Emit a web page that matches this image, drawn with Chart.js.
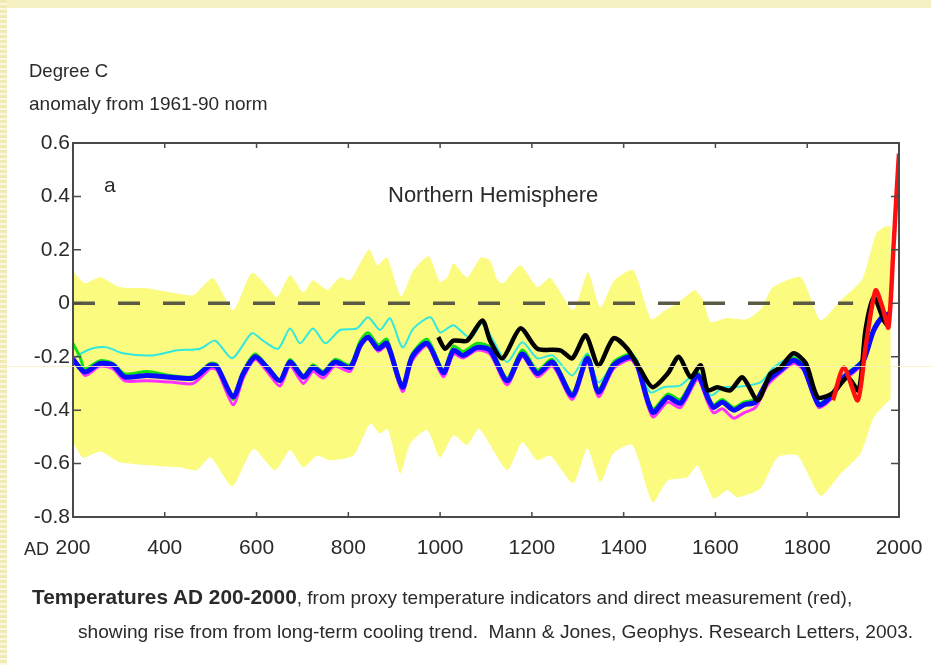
<!DOCTYPE html>
<html>
<head>
<meta charset="utf-8">
<script src="https://cdn.jsdelivr.net/npm/chart.js@4"></script>
<style>
body{margin:0;background:#fff;width:931px;height:665px;overflow:hidden;position:relative;font-family:'Liberation Sans',Arial,sans-serif;color:#2a2a2a}
#topband{position:absolute;left:0;top:0;width:931px;height:8px;background:#f6f1c3}
#leftband{position:absolute;left:0;top:0;width:7px;height:665px;background:repeating-linear-gradient(#f1eab2 0 3px,#fbf8e2 3px 5px)}
#paleline{position:absolute;left:0;top:366px;width:931px;height:1px;background:rgba(246,240,190,0.85)}
.txt{position:absolute;white-space:nowrap;line-height:1}
canvas{position:absolute;left:0;top:0}
</style>
</head>
<body>
<div id="topband"></div>
<div id="leftband"></div>
<canvas id="mannJones" width="931" height="665"></canvas>
<div id="paleline"></div>
<div class="txt" style="left:29px;top:62px;font-size:18.5px">Degree C</div>
<div class="txt" style="left:29px;top:94px;font-size:19px">anomaly from 1961-90 norm</div>
<div class="txt" style="left:104px;top:174px;font-size:21px">a</div>
<div class="txt" style="left:388px;top:184px;font-size:22px">Northern Hemisphere</div>
<div class="txt" style="left:24px;top:540px;font-size:18px">AD</div>
<div class="txt" style="left:32px;top:587px;font-size:19px"><b style="font-size:20.8px">Temperatures AD 200-2000</b>, from proxy temperature indicators and direct measurement (red),</div>
<div class="txt" style="left:78px;top:622px;font-size:19.15px">showing rise from from long-term cooling trend.&nbsp; Mann &amp; Jones, Geophys. Research Letters, 2003.</div>
<script>
// [year, anomaly]
const bandTop = [[200,0.12],[226,0.075],[259,0.097],[302,0.06],[361,0.056],[412,0.041],[462,0.03],[505,0.094],[549,-0.026],[590,0.114],[630,0.049],[645,0.022],[673,0.105],[702,0.041],[723,0.086],[754,0.05],[782,0.097],[804,0.086],[845,0.202],[863,0.142],[884,0.172],[915,0.026],[942,0.124],[975,0.176],[1000,0.08],[1016,0.097],[1029,0.15],[1059,0.097],[1088,0.17],[1109,0.16],[1125,0.086],[1138,0.075],[1175,0.142],[1212,0.06],[1240,0.095],[1290,-0.025],[1322,0.116],[1349,-0.015],[1380,0.086],[1421,0.124],[1460,-0.06],[1487,-0.03],[1517,0],[1555,0.049],[1574,0.01],[1589,-0.07],[1625,-0.055],[1667,-0.06],[1700,-0.02],[1725,0.06],[1786,0.097],[1829,-0.064],[1873,0.011],[1920,0.09],[1950,0.26],[1967,0.285],[1982,0.29]]
const bandBottom = [[200,-0.52],[222,-0.577],[259,-0.555],[302,-0.595],[374,-0.607],[433,-0.614],[470,-0.625],[500,-0.577],[547,-0.685],[593,-0.545],[640,-0.625],[673,-0.55],[702,-0.614],[732,-0.57],[760,-0.588],[811,-0.57],[848,-0.45],[869,-0.487],[886,-0.47],[913,-0.637],[935,-0.524],[972,-0.475],[1000,-0.577],[1029,-0.494],[1059,-0.53],[1085,-0.47],[1146,-0.625],[1179,-0.52],[1212,-0.588],[1240,-0.57],[1290,-0.674],[1321,-0.543],[1349,-0.67],[1378,-0.56],[1419,-0.53],[1463,-0.745],[1496,-0.663],[1539,-0.651],[1561,-0.607],[1596,-0.73],[1626,-0.7],[1648,-0.726],[1698,-0.693],[1735,-0.577],[1779,-0.57],[1829,-0.72],[1873,-0.637],[1917,-0.56],[1945,-0.427],[1982,-0.356]]
const zeroLine = [[200,0],[1900,0]]
const cyanSeries = [[200,-0.21],[215,-0.19],[244,-0.168],[274,-0.165],[309,-0.187],[374,-0.195],[427,-0.176],[477,-0.17],[510,-0.14],[547,-0.206],[590,-0.112],[614,-0.14],[647,-0.17],[673,-0.094],[695,-0.15],[723,-0.094],[750,-0.15],[782,-0.1],[819,-0.094],[843,-0.052],[869,-0.1],[891,-0.056],[918,-0.165],[942,-0.094],[979,-0.052],[1000,-0.109],[1029,-0.082],[1066,-0.13],[1092,-0.075],[1116,-0.14],[1146,-0.22],[1179,-0.146],[1212,-0.206],[1245,-0.195],[1288,-0.27],[1321,-0.187],[1345,-0.296],[1382,-0.22],[1415,-0.2],[1458,-0.333],[1487,-0.314],[1524,-0.307],[1561,-0.258],[1589,-0.345],[1618,-0.314],[1643,-0.314],[1698,-0.296],[1727,-0.24],[1770,-0.2],[1799,-0.235],[1825,-0.37],[1851,-0.34],[1880,-0.27],[1923,-0.205],[1945,-0.09],[1967,-0.04],[1980,-0.035]]
const greenSeries = [[200,-0.15],[215,-0.2],[226,-0.245],[259,-0.215],[287,-0.225],[313,-0.265],[361,-0.255],[412,-0.27],[462,-0.275],[499,-0.225],[514,-0.23],[549,-0.36],[571,-0.255],[597,-0.19],[623,-0.235],[651,-0.285],[673,-0.21],[702,-0.27],[723,-0.23],[745,-0.255],[771,-0.21],[804,-0.23],[826,-0.14],[843,-0.11],[865,-0.155],[884,-0.135],[918,-0.31],[939,-0.19],[972,-0.135],[1007,-0.25],[1029,-0.16],[1050,-0.18],[1081,-0.15],[1109,-0.165],[1146,-0.28],[1179,-0.175],[1212,-0.25],[1245,-0.21],[1288,-0.335],[1321,-0.195],[1345,-0.32],[1378,-0.22],[1415,-0.19],[1430,-0.22],[1463,-0.395],[1496,-0.34],[1524,-0.36],[1561,-0.26],[1583,-0.345],[1596,-0.38],[1615,-0.36],[1640,-0.39],[1662,-0.37],[1687,-0.36],[1714,-0.285],[1742,-0.24],[1770,-0.205],[1792,-0.235],[1825,-0.375],[1851,-0.345],[1880,-0.27],[1901,-0.245],[1923,-0.205],[1945,-0.095],[1967,-0.04],[1980,-0.035]]
const magentaSeries = [[200,-0.2],[226,-0.27],[259,-0.235],[287,-0.245],[313,-0.29],[361,-0.29],[412,-0.295],[462,-0.3],[499,-0.245],[514,-0.25],[549,-0.38],[571,-0.28],[597,-0.21],[623,-0.255],[651,-0.31],[673,-0.235],[702,-0.3],[723,-0.255],[745,-0.28],[771,-0.235],[804,-0.255],[826,-0.165],[843,-0.13],[865,-0.18],[884,-0.16],[918,-0.33],[939,-0.215],[972,-0.16],[1007,-0.275],[1029,-0.19],[1050,-0.205],[1081,-0.175],[1109,-0.19],[1146,-0.305],[1179,-0.2],[1212,-0.275],[1245,-0.235],[1288,-0.36],[1321,-0.22],[1345,-0.35],[1378,-0.245],[1415,-0.21],[1430,-0.245],[1463,-0.425],[1496,-0.37],[1524,-0.39],[1561,-0.285],[1583,-0.37],[1596,-0.41],[1615,-0.395],[1640,-0.43],[1662,-0.41],[1687,-0.39],[1714,-0.305],[1742,-0.26],[1770,-0.225],[1792,-0.25],[1825,-0.39],[1851,-0.36],[1880,-0.285],[1901,-0.26],[1923,-0.22],[1945,-0.11],[1967,-0.05],[1980,-0.045]]
const blueSeries = [[200,-0.21],[226,-0.257],[259,-0.225],[287,-0.232],[313,-0.276],[361,-0.27],[412,-0.277],[462,-0.28],[499,-0.232],[514,-0.238],[549,-0.35],[571,-0.263],[597,-0.2],[623,-0.24],[651,-0.29],[673,-0.22],[702,-0.277],[723,-0.24],[745,-0.263],[771,-0.22],[804,-0.24],[826,-0.157],[843,-0.127],[865,-0.17],[884,-0.15],[918,-0.314],[939,-0.2],[972,-0.15],[1007,-0.26],[1029,-0.176],[1050,-0.195],[1081,-0.165],[1109,-0.176],[1146,-0.29],[1179,-0.19],[1212,-0.263],[1245,-0.22],[1288,-0.345],[1321,-0.206],[1345,-0.333],[1378,-0.232],[1415,-0.2],[1430,-0.232],[1463,-0.408],[1496,-0.352],[1524,-0.374],[1561,-0.27],[1583,-0.352],[1596,-0.39],[1615,-0.37],[1640,-0.4],[1662,-0.38],[1687,-0.37],[1714,-0.29],[1742,-0.25],[1770,-0.213],[1792,-0.24],[1825,-0.38],[1851,-0.35],[1880,-0.277],[1901,-0.25],[1923,-0.213],[1945,-0.1],[1967,-0.045],[1980,-0.04]]
const blackSeries = [[996,-0.127],[1011,-0.17],[1029,-0.14],[1059,-0.14],[1092,-0.064],[1109,-0.14],[1136,-0.206],[1175,-0.094],[1212,-0.17],[1262,-0.176],[1288,-0.206],[1317,-0.12],[1345,-0.232],[1378,-0.131],[1408,-0.17],[1437,-0.25],[1463,-0.314],[1496,-0.263],[1520,-0.2],[1546,-0.277],[1568,-0.232],[1583,-0.326],[1604,-0.314],[1632,-0.326],[1659,-0.277],[1692,-0.363],[1720,-0.263],[1742,-0.24],[1770,-0.187],[1797,-0.225],[1823,-0.352],[1855,-0.337],[1888,-0.277],[1912,-0.326],[1927,-0.1],[1945,0.022],[1967,-0.064],[1978,-0.09]]
const redSeries = [[1856,-0.363],[1880,-0.24],[1910,-0.363],[1927,-0.165],[1949,0.048],[1964,-0.015],[1977,-0.09],[1988,0.21],[1995,0.42],[2000,0.56]]
const yearTicks = [200,400,600,800,1000,1200,1400,1600,1800,2000]
const anomalyTicks = [0.6,0.4,0.2,0,-0.2,-0.4,-0.6,-0.8]

function pts(arr){
    return arr.map(p => ({x: p[0], y: p[1]}))
}

function line(data, color, width, order){
    return {data: pts(data), borderColor: color, borderWidth: width, pointRadius: 0, tension: 0.25, fill: false, order: order}
}

// inward tick marks + frame, positions from the chart scales
const frameTicks = {
    id: 'frameTicks',
    afterDatasetsDraw(chart){
        const c = chart.ctx
        const a = chart.chartArea
        const xs = chart.scales.x
        const ys = chart.scales.y
        c.save()
        c.strokeStyle = '#4a4a4a'
        c.lineWidth = 2
        c.strokeRect(a.left, a.top, a.right - a.left, a.bottom - a.top)
        c.lineWidth = 1.5
        c.beginPath()
        yearTicks.forEach(t => {
            let px = xs.getPixelForValue(t)
            c.moveTo(px, a.top); c.lineTo(px, a.top + 5)
            c.moveTo(px, a.bottom); c.lineTo(px, a.bottom - 5)
        })
        anomalyTicks.forEach(t => {
            let py = ys.getPixelForValue(t)
            c.moveTo(a.left, py); c.lineTo(a.left + 8, py)
            c.moveTo(a.right, py); c.lineTo(a.right - 8, py)
        })
        c.stroke()
        c.restore()
    }
}

const zero = line(zeroLine, '#5b5b45', 3.5, 6)
zero.borderDash = [22, 23]
zero.tension = 0

new Chart(document.getElementById('mannJones'), {
    type: 'line',
    data: {
        datasets: [
            line(redSeries, '#ff1010', 4.5, 0),
            line(blackSeries, '#000000', 4.5, 1),
            line(blueSeries, '#0a0aff', 5, 2),
            line(greenSeries, '#10e010', 3, 4),
            line(magentaSeries, '#ff30ff', 3, 3),
            line(cyanSeries, '#30e8e0', 2, 5),
            zero,
            {data: pts(bandTop), borderWidth: 0, pointRadius: 0, tension: 0.2, backgroundColor: '#fbfb80', fill: '+1', order: 8},
            {data: pts(bandBottom), borderWidth: 0, pointRadius: 0, tension: 0.2, fill: false, order: 9}
        ]
    },
    options: {
        responsive: false,
        animation: false,
        layout: {autoPadding: false, padding: {left: 0, top: 143, right: 32, bottom: 103}},
        plugins: {legend: {display: false}, tooltip: {enabled: false}},
        scales: {
            x: {
                type: 'linear', min: 200, max: 2000,
                afterBuildTicks: s => { s.ticks = yearTicks.map(v => ({value: v})) },
                afterFit: s => { s.height = 45; s.paddingLeft = 0; s.paddingRight = 0 },
                grid: {display: false, drawTicks: false},
                border: {display: false},
                ticks: {padding: 19, color: '#2a2a2a', font: {family: 'Liberation Sans', size: 21}, maxRotation: 0, callback: v => String(v)}
            },
            y: {
                min: -0.8, max: 0.6,
                afterBuildTicks: s => { s.ticks = anomalyTicks.map(v => ({value: v})) },
                afterFit: s => { s.width = 73; s.paddingTop = 0; s.paddingBottom = 0 },
                grid: {display: false, drawTicks: false},
                border: {display: false},
                ticks: {padding: 3, color: '#2a2a2a', font: {family: 'Liberation Sans', size: 21}, callback: v => String(Math.round(v * 10) / 10)}
            }
        }
    },
    plugins: [frameTicks]
})
</script>
</body>
</html>
